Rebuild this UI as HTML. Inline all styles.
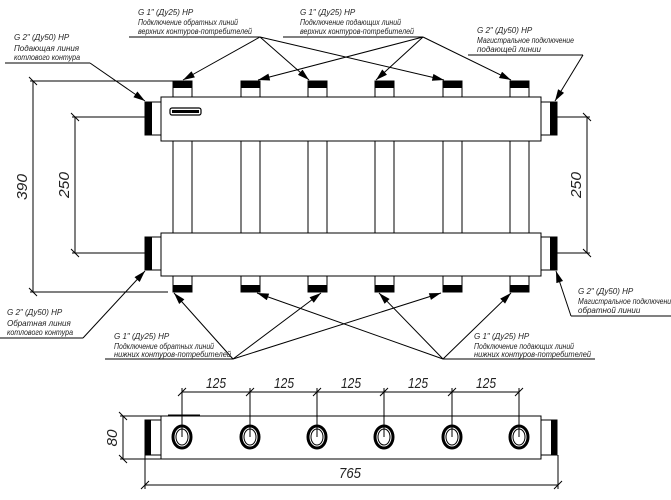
<!DOCTYPE html>
<html><head><meta charset="utf-8"><style>
html,body{margin:0;padding:0;background:#fff;}
svg{display:block;}
.t{font-family:"Liberation Sans",sans-serif;font-style:italic;font-size:8px;fill:#222;}
.n{font-family:"Liberation Sans",sans-serif;font-style:italic;font-size:15px;fill:#222;}
</style></head><body>
<svg width="671" height="500" viewBox="0 0 671 500" xmlns="http://www.w3.org/2000/svg">
<defs>
<marker id="a" viewBox="0 0 10 6" refX="10" refY="3" markerWidth="14" markerHeight="7" markerUnits="userSpaceOnUse" orient="auto"><path d="M0,0 L10,3 L0,6 Z" fill="#000"/></marker>
</defs>
<g stroke="#000" fill="none" stroke-width="1">
<rect x="161" y="97" width="380" height="44" fill="#fff"/>
<rect x="170" y="108" width="31" height="7" rx="2" fill="#fff" stroke-width="1.2"/>
<rect x="172" y="110" width="27" height="3" fill="#000" stroke="none"/>
<rect x="161" y="233" width="380" height="43" fill="#fff"/>
</g>
<g stroke="#000" stroke-width="1" fill="#fff">
<rect x="173" y="141" width="19" height="92"/><rect x="241" y="141" width="19" height="92"/><rect x="308" y="141" width="19" height="92"/>
<rect x="375" y="141" width="19" height="92"/><rect x="443" y="141" width="19" height="92"/><rect x="510" y="141" width="19" height="92"/>
<rect x="173" y="81" width="19" height="16"/><rect x="241" y="81" width="19" height="16"/><rect x="308" y="81" width="19" height="16"/>
<rect x="375" y="81" width="19" height="16"/><rect x="443" y="81" width="19" height="16"/><rect x="510" y="81" width="19" height="16"/>
<rect x="173" y="276" width="19" height="16"/><rect x="241" y="276" width="19" height="16"/><rect x="308" y="276" width="19" height="16"/>
<rect x="375" y="276" width="19" height="16"/><rect x="443" y="276" width="19" height="16"/><rect x="510" y="276" width="19" height="16"/>
<rect x="145" y="102" width="16" height="33"/><rect x="541" y="102" width="16" height="33"/>
<rect x="145" y="237" width="16" height="33"/><rect x="541" y="237" width="16" height="33"/>
</g>
<g fill="#000">
<rect x="173" y="81" width="19" height="7"/><rect x="241" y="81" width="19" height="7"/><rect x="308" y="81" width="19" height="7"/>
<rect x="375" y="81" width="19" height="7"/><rect x="443" y="81" width="19" height="7"/><rect x="510" y="81" width="19" height="7"/>
<rect x="173" y="285" width="19" height="7"/><rect x="241" y="285" width="19" height="7"/><rect x="308" y="285" width="19" height="7"/>
<rect x="375" y="285" width="19" height="7"/><rect x="443" y="285" width="19" height="7"/><rect x="510" y="285" width="19" height="7"/>
<rect x="145" y="102" width="7" height="33"/><rect x="550" y="102" width="7" height="33"/>
<rect x="145" y="237" width="7" height="33"/><rect x="550" y="237" width="7" height="33"/>
</g>
<g stroke="#000" stroke-width="1" fill="none">
<line x1="33" y1="81" x2="33" y2="292"/>
<line x1="30" y1="81" x2="173" y2="81"/>
<line x1="30" y1="292" x2="168" y2="292"/>
<line x1="29" y1="77" x2="37" y2="85"/><line x1="29" y1="288" x2="37" y2="296"/>
<line x1="75" y1="117" x2="75" y2="253"/>
<line x1="72" y1="117" x2="145" y2="117"/>
<line x1="72" y1="253" x2="145" y2="253"/>
<line x1="71" y1="113" x2="79" y2="121"/><line x1="71" y1="249" x2="79" y2="257"/>
<line x1="587" y1="117" x2="587" y2="253"/>
<line x1="557" y1="117" x2="590" y2="117"/>
<line x1="557" y1="253" x2="590" y2="253"/>
<line x1="583" y1="113" x2="591" y2="121"/><line x1="583" y1="249" x2="591" y2="257"/>
<line x1="5" y1="63" x2="90" y2="63"/>
<line x1="129" y1="37" x2="260" y2="37"/>
<line x1="283" y1="37" x2="423" y2="37"/>
<line x1="468" y1="55" x2="583" y2="55"/>
<line x1="0" y1="338" x2="83" y2="338"/>
<line x1="105" y1="359" x2="233" y2="359"/>
<line x1="443" y1="359" x2="595" y2="359"/>
<line x1="571" y1="316" x2="671" y2="316"/>
</g>
<g stroke="#000" stroke-width="1" marker-end="url(#a)">
<line x1="90" y1="63" x2="145" y2="101"/>
<line x1="260" y1="37" x2="183" y2="80"/>
<line x1="260" y1="37" x2="309" y2="80"/>
<line x1="260" y1="37" x2="444" y2="80"/>
<line x1="423" y1="37" x2="258" y2="80"/>
<line x1="423" y1="37" x2="376" y2="80"/>
<line x1="423" y1="37" x2="511" y2="80"/>
<line x1="583" y1="55" x2="555" y2="101"/>
<line x1="83" y1="338" x2="145" y2="271"/>
<line x1="233" y1="359" x2="174" y2="293"/>
<line x1="233" y1="359" x2="321" y2="293"/>
<line x1="233" y1="359" x2="441" y2="293"/>
<line x1="443" y1="359" x2="257" y2="293"/>
<line x1="443" y1="359" x2="379" y2="293"/>
<line x1="443" y1="359" x2="511" y2="293"/>
<line x1="571" y1="316" x2="556" y2="271"/>
</g>
<text class="t" x="14" y="40">G 2" (Ду50) НР</text>
<text class="t" x="14" y="51">Подающая линия</text>
<text class="t" x="14" y="60" textLength="66" lengthAdjust="spacingAndGlyphs">котлового контура</text>
<text class="t" x="138" y="15">G 1" (Ду25) НР</text>
<text class="t" x="138" y="25" textLength="100" lengthAdjust="spacingAndGlyphs">Подключение обратных линий</text>
<text class="t" x="138" y="34" textLength="114" lengthAdjust="spacingAndGlyphs">верхних контуров-потребителей</text>
<text class="t" x="300" y="15">G 1" (Ду25) НР</text>
<text class="t" x="300" y="25" textLength="101" lengthAdjust="spacingAndGlyphs">Подключение подающих линий</text>
<text class="t" x="300" y="34" textLength="114" lengthAdjust="spacingAndGlyphs">верхних контуров-потребителей</text>
<text class="t" x="477" y="33">G 2" (Ду50) НР</text>
<text class="t" x="477" y="43" textLength="97" lengthAdjust="spacingAndGlyphs">Магистральное подключение</text>
<text class="t" x="477" y="52">подающей линии</text>
<text class="t" x="7" y="315">G 2" (Ду50) НР</text>
<text class="t" x="7" y="326">Обратная линия</text>
<text class="t" x="7" y="335" textLength="66" lengthAdjust="spacingAndGlyphs">котлового контура</text>
<text class="t" x="114" y="339">G 1" (Ду25) НР</text>
<text class="t" x="114" y="349" textLength="100" lengthAdjust="spacingAndGlyphs">Подключение обратных линий</text>
<text class="t" x="114" y="357" textLength="117" lengthAdjust="spacingAndGlyphs">нижних контуров-потребителей</text>
<text class="t" x="474" y="339">G 1" (Ду25) НР</text>
<text class="t" x="474" y="349" textLength="100" lengthAdjust="spacingAndGlyphs">Подключение подающих линий</text>
<text class="t" x="474" y="357" textLength="117" lengthAdjust="spacingAndGlyphs">нижних контуров-потребителей</text>
<text class="t" x="578" y="294">G 2" (Ду50) НР</text>
<text class="t" x="578" y="304" textLength="97" lengthAdjust="spacingAndGlyphs">Магистральное подключение</text>
<text class="t" x="578" y="313">обратной линии</text>
<text class="n" transform="translate(27,187) rotate(-90)" text-anchor="middle" textLength="26" lengthAdjust="spacingAndGlyphs">390</text>
<text class="n" transform="translate(69,185) rotate(-90)" text-anchor="middle" textLength="26" lengthAdjust="spacingAndGlyphs">250</text>
<text class="n" transform="translate(581,185) rotate(-90)" text-anchor="middle" textLength="26" lengthAdjust="spacingAndGlyphs">250</text>

<g stroke="#000" stroke-width="1" fill="#fff">
<rect x="161" y="416" width="380" height="43"/>
<rect x="145" y="420" width="16" height="35"/>
<rect x="541" y="420" width="16" height="35"/>
</g>
<rect x="145" y="420" width="6" height="35" fill="#000"/>
<rect x="551" y="420" width="6" height="35" fill="#000"/>
<line x1="168" y1="415" x2="200" y2="415" stroke="#000"/>
<g stroke="#000" fill="#fff">
<g stroke-width="3">
<ellipse cx="182" cy="437" rx="9" ry="11"/><ellipse cx="250" cy="437" rx="9" ry="11"/><ellipse cx="317" cy="437" rx="9" ry="11"/>
<ellipse cx="384" cy="437" rx="9" ry="11"/><ellipse cx="452" cy="437" rx="9" ry="11"/><ellipse cx="519" cy="437" rx="9" ry="11"/>
</g>
<g stroke-width="1">
<ellipse cx="182" cy="437" rx="6" ry="8"/><ellipse cx="250" cy="437" rx="6" ry="8"/><ellipse cx="317" cy="437" rx="6" ry="8"/>
<ellipse cx="384" cy="437" rx="6" ry="8"/><ellipse cx="452" cy="437" rx="6" ry="8"/><ellipse cx="519" cy="437" rx="6" ry="8"/>
</g>
</g>
<g stroke="#000" stroke-width="1" fill="none">
<line x1="182" y1="392" x2="519" y2="392"/>
<line x1="182" y1="388" x2="182" y2="437"/><line x1="250" y1="388" x2="250" y2="437"/><line x1="317" y1="388" x2="317" y2="437"/>
<line x1="384" y1="388" x2="384" y2="437"/><line x1="452" y1="388" x2="452" y2="437"/><line x1="519" y1="388" x2="519" y2="437"/>
<line x1="178" y1="396" x2="186" y2="388"/><line x1="246" y1="396" x2="254" y2="388"/><line x1="313" y1="396" x2="321" y2="388"/>
<line x1="380" y1="396" x2="388" y2="388"/><line x1="448" y1="396" x2="456" y2="388"/><line x1="515" y1="396" x2="523" y2="388"/>
<line x1="123" y1="416" x2="123" y2="459"/>
<line x1="120" y1="416" x2="161" y2="416"/><line x1="120" y1="459" x2="161" y2="459"/>
<line x1="119" y1="412" x2="127" y2="420"/><line x1="119" y1="455" x2="127" y2="463"/>
<line x1="145" y1="485" x2="558" y2="485"/>
<line x1="145" y1="455" x2="145" y2="489"/><line x1="558" y1="455" x2="558" y2="489"/>
<line x1="141" y1="489" x2="149" y2="481"/><line x1="554" y1="489" x2="562" y2="481"/>
</g>
<text class="n" x="216" y="388" text-anchor="middle" textLength="20" lengthAdjust="spacingAndGlyphs">125</text>
<text class="n" x="284" y="388" text-anchor="middle" textLength="20" lengthAdjust="spacingAndGlyphs">125</text>
<text class="n" x="351" y="388" text-anchor="middle" textLength="20" lengthAdjust="spacingAndGlyphs">125</text>
<text class="n" x="418" y="388" text-anchor="middle" textLength="20" lengthAdjust="spacingAndGlyphs">125</text>
<text class="n" x="486" y="388" text-anchor="middle" textLength="20" lengthAdjust="spacingAndGlyphs">125</text>
<text class="n" transform="translate(117,438) rotate(-90)" text-anchor="middle" textLength="17" lengthAdjust="spacingAndGlyphs">80</text>
<text class="n" x="350" y="478" text-anchor="middle" textLength="22" lengthAdjust="spacingAndGlyphs">765</text>
</svg>
</body></html>
